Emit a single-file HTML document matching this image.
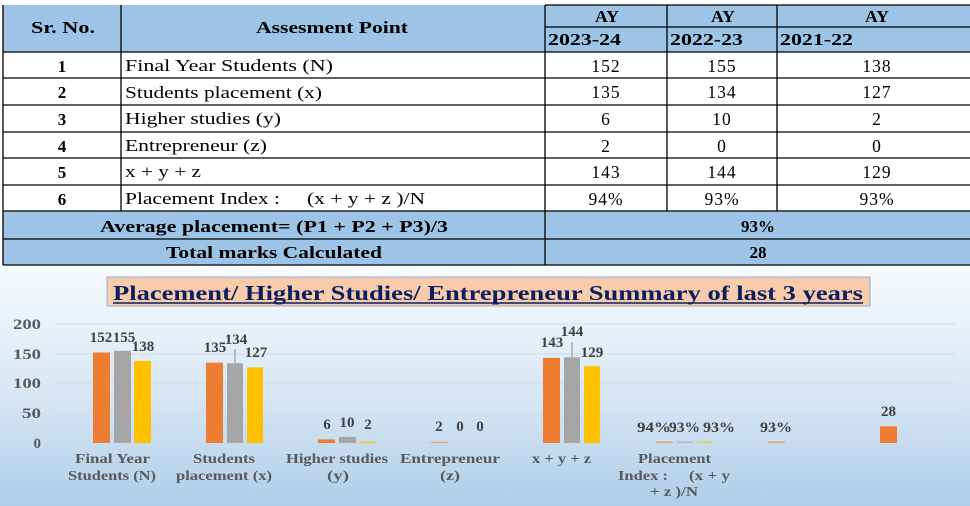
<!DOCTYPE html>
<html><head><meta charset="utf-8"><style>
html,body{margin:0;padding:0;background:#fff;}
svg{display:block;font-family:"Liberation Serif",serif;}
</style></head><body>
<svg width="970" height="506" viewBox="0 0 970 506" xmlns="http://www.w3.org/2000/svg" font-family="Liberation Serif, serif">
<defs>
<linearGradient id="bg" x1="0" y1="0" x2="0" y2="1">
<stop offset="0" stop-color="#f7fafd"/><stop offset="0.55" stop-color="#d6e6f4"/><stop offset="1" stop-color="#afcde8"/>
</linearGradient>
</defs>
<rect x="3" y="5" width="967" height="47" fill="#9dc3e6"/>
<rect x="3" y="52" width="967" height="159" fill="#fff"/>
<rect x="3" y="211" width="967" height="54" fill="#9dc3e6"/>
<g stroke="#000" stroke-width="1.3" fill="none">
<line x1="3" y1="5" x2="3" y2="265"/>
<line x1="121" y1="5" x2="121" y2="211"/>
<line x1="545" y1="5" x2="545" y2="265"/>
<line x1="667" y1="5" x2="667" y2="211"/>
<line x1="777" y1="5" x2="777" y2="211"/>
<line x1="545" y1="5" x2="970" y2="5"/>
<line x1="545" y1="27" x2="970" y2="27"/>
<line x1="3" y1="52" x2="970" y2="52"/>
<line x1="3" y1="78" x2="970" y2="78"/>
<line x1="3" y1="105" x2="970" y2="105"/>
<line x1="3" y1="132" x2="970" y2="132"/>
<line x1="3" y1="158" x2="970" y2="158"/>
<line x1="3" y1="185" x2="970" y2="185"/>
<line x1="3" y1="211" x2="970" y2="211"/>
<line x1="3" y1="239" x2="970" y2="239"/>
<line x1="3" y1="265" x2="970" y2="265"/>
</g>
<g font-size="17" font-weight="bold" fill="#000">
<text x="31" y="33" textLength="64" lengthAdjust="spacingAndGlyphs">Sr. No.</text>
<text x="256" y="33" textLength="152" lengthAdjust="spacingAndGlyphs">Assesment Point</text>
<text x="595" y="22" textLength="24" lengthAdjust="spacingAndGlyphs">AY</text>
<text x="711" y="22" textLength="24" lengthAdjust="spacingAndGlyphs">AY</text>
<text x="865" y="22" textLength="24" lengthAdjust="spacingAndGlyphs">AY</text>
<text x="548" y="45" textLength="73" lengthAdjust="spacingAndGlyphs">2023-24</text>
<text x="670" y="45" textLength="73" lengthAdjust="spacingAndGlyphs">2022-23</text>
<text x="780" y="45" textLength="73" lengthAdjust="spacingAndGlyphs">2021-22</text>
<text x="100" y="232" textLength="348" lengthAdjust="spacingAndGlyphs">Average placement= (P1 + P2 + P3)/3</text>
<text x="166" y="258" textLength="216" lengthAdjust="spacingAndGlyphs">Total marks Calculated</text>
</g>
<g font-size="17" font-weight="bold" text-anchor="middle" fill="#000">
<text x="62" y="72">1</text><text x="62" y="98">2</text><text x="62" y="125">3</text>
<text x="62" y="152">4</text><text x="62" y="178">5</text><text x="62" y="205">6</text>
<text x="758" y="232">93%</text>
<text x="758" y="258">28</text>
</g>
<g font-size="17" fill="#000">
<text x="125" y="71" textLength="208" lengthAdjust="spacingAndGlyphs">Final Year Students (N)</text>
<text x="125" y="98" textLength="197" lengthAdjust="spacingAndGlyphs">Students placement (x)</text>
<text x="125" y="124" textLength="156" lengthAdjust="spacingAndGlyphs">Higher studies (y)</text>
<text x="125" y="151" textLength="142" lengthAdjust="spacingAndGlyphs">Entrepreneur (z)</text>
<text x="125" y="177" textLength="76" lengthAdjust="spacingAndGlyphs">x + y + z</text>
<text x="125" y="204" textLength="155" lengthAdjust="spacingAndGlyphs">Placement Index :</text>
<text x="307" y="204" textLength="118" lengthAdjust="spacingAndGlyphs">(x + y + z )/N</text>
</g>
<g font-size="17.5" fill="#000" text-anchor="middle" letter-spacing="1">
<text x="606" y="72">152</text><text x="722" y="72">155</text><text x="877" y="72">138</text>
<text x="606" y="98">135</text><text x="722" y="98">134</text><text x="877" y="98">127</text>
<text x="606" y="125">6</text><text x="722" y="125">10</text><text x="877" y="125">2</text>
<text x="606" y="152">2</text><text x="722" y="152">0</text><text x="877" y="152">0</text>
<text x="606" y="178">143</text><text x="722" y="178">144</text><text x="877" y="178">129</text>
<text x="606" y="205">94%</text><text x="722" y="205">93%</text><text x="877" y="205">93%</text>
</g>
<rect x="0" y="267" width="970" height="239" fill="url(#bg)"/>
<rect x="107" y="277" width="763" height="29" fill="#f8cbad" stroke="#8fb1d9" stroke-width="1"/>
<text x="113" y="300" font-size="21" font-weight="bold" fill="#0c1f5c" textLength="750" lengthAdjust="spacingAndGlyphs">Placement/ Higher Studies/ Entrepreneur Summary of last 3 years</text>
<line x1="113" y1="303" x2="863" y2="303" stroke="#0c1f5c" stroke-width="1.5"/>
<g stroke="#d3d9e0" stroke-width="1">
<line x1="57" y1="324" x2="955" y2="324"/>
<line x1="57" y1="354" x2="955" y2="354"/>
<line x1="57" y1="383" x2="955" y2="383"/>
<line x1="57" y1="413" x2="955" y2="413"/>
<line x1="57" y1="443" x2="955" y2="443"/>
</g>
<g font-size="15" font-weight="bold" fill="#595959" text-anchor="end">
<text x="41" y="329" textLength="28" lengthAdjust="spacingAndGlyphs">200</text>
<text x="41" y="359" textLength="28" lengthAdjust="spacingAndGlyphs">150</text>
<text x="41" y="388" textLength="28" lengthAdjust="spacingAndGlyphs">100</text>
<text x="41" y="418" textLength="19" lengthAdjust="spacingAndGlyphs">50</text>
<text x="41" y="448">0</text>
</g>
<g>
<rect x="93" y="352.5" width="17" height="90.5" fill="#ed7d31"/>
<rect x="114" y="350.8" width="17" height="92.2" fill="#a5a5a5"/>
<rect x="134" y="360.9" width="17" height="82.1" fill="#ffc000"/>
<rect x="206" y="362.7" width="17" height="80.3" fill="#ed7d31"/>
<rect x="227" y="363.3" width="16" height="79.7" fill="#a5a5a5"/>
<rect x="247" y="367.4" width="16" height="75.6" fill="#ffc000"/>
<line x1="235" y1="349" x2="235" y2="363" stroke="#8a8a8a"/>
<rect x="318" y="439.4" width="17" height="3.6" fill="#ed7d31"/>
<rect x="339" y="437" width="17" height="6" fill="#a5a5a5"/>
<rect x="359" y="441.8" width="17" height="1.2" fill="#ffc000"/>
<rect x="431" y="441.8" width="17" height="1.2" fill="#ed7d31" opacity="0.6"/>
<rect x="543" y="357.9" width="17" height="85.1" fill="#ed7d31"/>
<rect x="564" y="357.3" width="16" height="85.7" fill="#a5a5a5"/>
<rect x="584" y="366.2" width="16" height="76.8" fill="#ffc000"/>
<line x1="572" y1="342" x2="572" y2="357" stroke="#8a8a8a"/>
<rect x="656" y="441.5" width="17" height="1.5" fill="#ed7d31" opacity="0.6"/>
<rect x="677" y="441.5" width="16" height="1.5" fill="#a5a5a5" opacity="0.6"/>
<rect x="697" y="441.5" width="16" height="1.5" fill="#ffc000" opacity="0.6"/>
<rect x="768" y="441.5" width="17" height="1.5" fill="#ed7d31" opacity="0.6"/>
<rect x="880" y="426.3" width="17" height="16.7" fill="#ed7d31"/>
</g>
<g font-size="15" font-weight="bold" fill="#404040" text-anchor="middle">
<text x="101" y="342">152</text><text x="124" y="342">155</text><text x="143" y="351">138</text>
<text x="215" y="352">135</text><text x="236" y="344">134</text><text x="256" y="357">127</text>
<text x="327" y="429">6</text><text x="347" y="427">10</text><text x="368" y="429">2</text>
<text x="439" y="431">2</text><text x="460" y="431">0</text><text x="480" y="431">0</text>
<text x="552" y="347">143</text><text x="572" y="336">144</text><text x="592" y="357">129</text>
</g>
<g font-size="15" font-weight="bold" fill="#404040">
<text x="637" y="432" textLength="34" lengthAdjust="spacingAndGlyphs">94%</text>
<text x="669" y="432" textLength="31" lengthAdjust="spacingAndGlyphs">93%</text>
<text x="703" y="432" textLength="32" lengthAdjust="spacingAndGlyphs">93%</text>
<text x="760" y="432" textLength="32" lengthAdjust="spacingAndGlyphs">93%</text>
<text x="881" y="416">28</text>
</g>
<g font-size="14" font-weight="bold" fill="#595959">
<text x="75" y="463" textLength="75" lengthAdjust="spacingAndGlyphs">Final Year</text>
<text x="68" y="480" textLength="88" lengthAdjust="spacingAndGlyphs">Students (N)</text>
<text x="193" y="463" textLength="62" lengthAdjust="spacingAndGlyphs">Students</text>
<text x="176" y="480" textLength="96" lengthAdjust="spacingAndGlyphs">placement (x)</text>
<text x="286" y="463" textLength="102" lengthAdjust="spacingAndGlyphs">Higher studies</text>
<text x="327" y="480" textLength="22" lengthAdjust="spacingAndGlyphs">(y)</text>
<text x="400" y="463" textLength="100" lengthAdjust="spacingAndGlyphs">Entrepreneur</text>
<text x="440" y="480" textLength="20" lengthAdjust="spacingAndGlyphs">(z)</text>
<text x="532" y="463" textLength="59" lengthAdjust="spacingAndGlyphs">x + y + z</text>
<text x="638" y="463" textLength="73" lengthAdjust="spacingAndGlyphs">Placement</text>
<text x="618" y="480" textLength="50" lengthAdjust="spacingAndGlyphs">Index :</text>
<text x="689" y="480" textLength="41" lengthAdjust="spacingAndGlyphs">(x + y</text>
<text x="650" y="496" textLength="48" lengthAdjust="spacingAndGlyphs">+ z )/N</text>
</g>
</svg>
</body></html>
